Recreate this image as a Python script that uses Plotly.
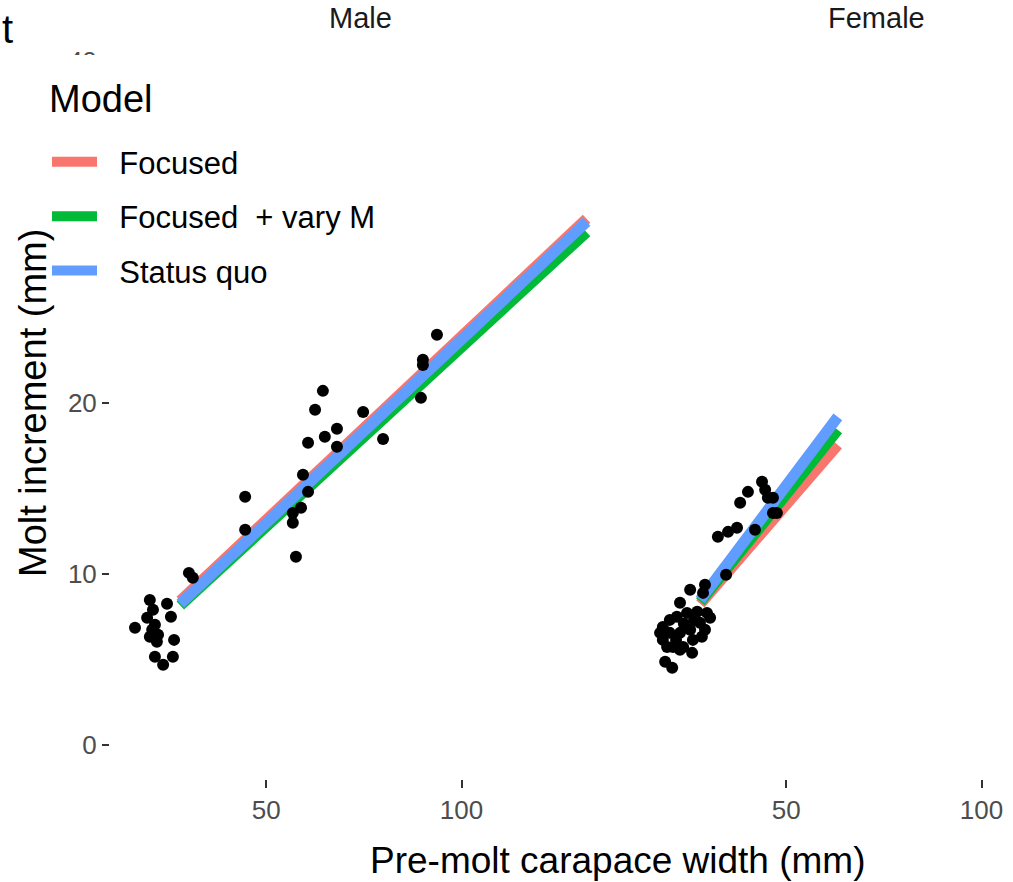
import plotly.graph_objects as go

# ---------------- data ----------------
male_width = [16.4, 20.2, 21.0, 24.6, 25.6, 19.5, 20.8, 20.2, 22.0, 26.4, 21.5, 26.1, 23.6, 21.5, 22.3,
              30.2, 31.2, 44.6, 44.6, 57.6, 56.8, 56.8, 58.9, 60.7, 59.4, 60.7, 65.0, 68.1, 68.1, 62.5,
              64.5, 74.8, 79.9, 89.6, 90.1, 90.1, 93.7]
male_incr = [6.85, 8.48, 7.90, 8.25, 7.49, 7.43, 6.73, 6.32, 6.03, 6.14, 5.15, 5.15, 4.68, 7.02, 6.44,
             10.06, 9.77, 14.51, 12.58, 11.0, 12.99, 13.57, 13.87, 14.80, 15.80, 17.67, 18.02, 18.49, 17.44, 19.60,
             20.71, 19.48, 17.90, 20.30, 22.53, 22.23, 23.99]

female_width = [43.8, 40.2, 38.2, 44.6, 45.3, 46.6, 46.6, 47.6, 42.0, 37.4, 35.1, 32.5, 34.6, 29.2, 28.7,
                25.4, 22.8, 18.4, 20.2, 22.0, 24.6, 27.2, 29.7, 30.5, 27.9, 25.4, 22.8, 20.2, 18.4, 21.0,
                23.6, 26.1, 28.4, 25.9, 22.8, 17.7, 19.5, 19.0, 20.8, 23.8, 26.4, 29.2, 21.8]
female_incr = [15.39, 14.80, 14.16, 14.92, 14.45, 14.45, 13.57, 13.57, 12.58, 12.70, 12.46, 12.17, 9.95, 9.36, 8.89,
               9.07, 8.31, 6.90, 7.31, 7.49, 7.72, 7.78, 7.72, 7.43, 7.14, 6.73, 6.55, 6.55, 6.14, 5.73,
               5.73, 6.14, 6.32, 5.38, 5.56, 6.55, 5.73, 4.86, 4.51, 7.08, 7.31, 6.73, 6.14]

models = ["Focused", "Focused  + vary M", "Status quo"]
model_colors = ["#F8766D", "#00BA38", "#619CFF"]
male_line_x = [28, 132]
male_line_y = {"Focused": [8.43, 30.78], "Focused  + vary M": [8.15, 30.0], "Status quo": [8.25, 30.6]}
female_line_x = [28, 63.2]
female_line_y = {"Focused": [8.25, 17.55], "Focused  + vary M": [8.37, 18.43], "Status quo": [8.48, 19.19]}

x_ticks = [50, 100]
y_ticks = [0, 10, 20, 30, 40]

# ---------------- figure ----------------
fig = go.Figure()
LW = 11
for m, c in zip(models, model_colors):
    fig.add_trace(go.Scatter(x=male_line_x, y=male_line_y[m], mode="lines", name="\u00a0\u00a0" + m,
                             line=dict(color=c, width=LW), legendgroup=m, showlegend=True,
                             xaxis="x", yaxis="y"))
    fig.add_trace(go.Scatter(x=female_line_x, y=female_line_y[m], mode="lines", name=m,
                             line=dict(color=c, width=LW), legendgroup=m, showlegend=False,
                             xaxis="x2", yaxis="y2"))

fig.add_trace(go.Scatter(x=male_width, y=male_incr, mode="markers", showlegend=False,
                         marker=dict(color="black", size=12), xaxis="x", yaxis="y"))
fig.add_trace(go.Scatter(x=female_width, y=female_incr, mode="markers", showlegend=False,
                         marker=dict(color="black", size=12), xaxis="x2", yaxis="y2"))

W, H = 1013, 882
ml, mt, mb = 110, 27, 103
pw = W - ml
tickfont = dict(family="Liberation Sans, Arial, sans-serif", size=26, color="#4D4D4D")
B = 10

fig.update_layout(
    width=W, height=H,
    margin=dict(l=ml, r=0, t=mt, b=mb, autoexpand=False),
    paper_bgcolor="white", plot_bgcolor="white",
    font=dict(family="Liberation Sans, Arial, sans-serif"),
    xaxis=dict(domain=[0, 500 / pw], range=[10, 138], tickvals=x_ticks, ticktext=[str(v) for v in x_ticks],
               ticks="outside", ticklen=8, tickwidth=1.5, tickcolor="#333333", tickfont=tickfont,
               showgrid=False, zeroline=False, showline=False, anchor="y"),
    xaxis2=dict(domain=[520 / pw, 1], range=[10, 10 + 383 / 3.906], tickvals=x_ticks,
                ticktext=[str(v) for v in x_ticks],
                ticks="outside", ticklen=8, tickwidth=1.5, tickcolor="#333333", tickfont=tickfont,
                showgrid=False, zeroline=False, showline=False, anchor="y2"),
    yaxis=dict(domain=[0, 1], range=[-2, 42], tickvals=y_ticks, ticks="outside", ticklen=7,
               tickwidth=1.5, tickcolor="#333333", tickfont=tickfont,
               showgrid=False, zeroline=False, showline=False, anchor="x"),
    yaxis2=dict(domain=[0, 1], range=[-2, 42], showticklabels=False, ticks="",
                showgrid=False, zeroline=False, showline=False, anchor="x2"),
    annotations=[
        dict(text="Molt increment (mm)", x=(33 - ml) / pw, y=0.5, xref="paper", yref="paper",
             textangle=-90, showarrow=False, xanchor="center", yanchor="middle",
             font=dict(size=38, color="black")),
        dict(text="Male", x=(360 - ml) / pw, y=1 + (mt - 18) / 752, xref="paper", yref="paper",
             showarrow=False, xanchor="center", yanchor="middle", font=dict(size=29, color="#1A1A1A")),
        dict(text="Female", x=(876 - ml) / pw, y=1 + (mt - 18) / 752, xref="paper", yref="paper",
             showarrow=False, xanchor="center", yanchor="middle", font=dict(size=29, color="#1A1A1A")),
        dict(text="Pre-molt carapace width (mm)", x=(618 - ml) / pw, y=-(860 - 779) / 752,
             xref="paper", yref="paper", showarrow=False, xanchor="center", yanchor="middle",
             font=dict(size=37, color="black")),
        dict(text="t", x=-ml / pw, y=1 + (mt - 29) / 752, xref="paper", yref="paper",
             showarrow=False, xanchor="left", yanchor="middle", font=dict(size=40, color="black")),
    ],
    legend=dict(xref="container", yref="container", x=(47 - B) / W, y=1 - 55 / H,
                xanchor="left", yanchor="top",
                bgcolor="white", bordercolor="white", borderwidth=B,
                title=dict(text=" <br><span style='font-size:38px'>Model</span><br> ",
                           font=dict(size=18, color="black")),
                font=dict(size=31, color="black"),
                traceorder="grouped", tracegroupgap=11, itemwidth=45),
)

fig.write_html("out.html")
